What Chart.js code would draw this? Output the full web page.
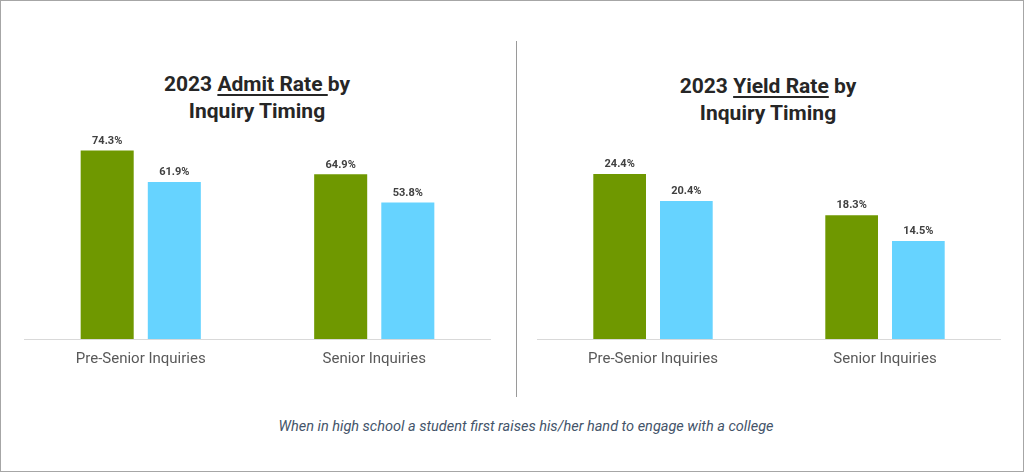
<!DOCTYPE html>
<html lang="en">
<head>
    <meta charset="UTF-8">
    <title>2023 Admit and Yield Rate by Inquiry Timing</title>
    <script src="https://cdn.jsdelivr.net/npm/chart.js"></script>
    <style>
        body {
            margin: 0;
            background: #ffffff;
            font-family: Roboto, "Noto Sans", sans-serif;
        }

        .frame {
            position: relative;
            width: 1022px;
            height: 470px;
            border: 1px solid #a6a6a6;
            overflow: hidden;
        }

        .divider {
            position: absolute;
            left: 515px;
            top: 40px;
            width: 1px;
            height: 356px;
            background: #9a9a9a;
        }

        .title {
            position: absolute;
            width: 400px;
            text-align: center;
            font-size: 21px;
            font-weight: bold;
            line-height: 27px;
            color: #262626;
        }

        .title u {
            text-underline-offset: 3px;
            text-decoration-thickness: 1.5px;
        }

        .chart-box {
            position: absolute;
            top: 100px;
            height: 278px;
        }

        .note {
            position: absolute;
            left: 14px;
            width: 1022px;
            top: 417px;
            text-align: center;
            font-style: italic;
            font-size: 14.5px;
            color: #44546a;
        }
    </style>
</head>
<body>
    <div class="frame">
        <div class="title" style="left:56px; top:70px;">2023 <u>Admit Rate </u>by<br>Inquiry Timing</div>
        <div class="title" style="left:567px; top:72px;">2023 <u>Yield Rate</u> by<br>Inquiry Timing</div>
        <div class="chart-box" style="left:23px; width:467px;"><canvas id="admitChart"></canvas></div>
        <div class="divider"></div>
        <div class="chart-box" style="left:536px; width:464px;"><canvas id="yieldChart"></canvas></div>
        <div class="note">When in high school a student first raises his/her hand to engage with a college</div>
    </div>
    <script>
        const categories = ['Pre-Senior Inquiries', 'Senior Inquiries'];
        const admitFirst = [74.3, 64.9];
        const admitSecond = [61.9, 53.8];
        const yieldFirst = [24.4, 18.3];
        const yieldSecond = [20.4, 14.5];

        // writes the value above each bar
        const valueLabels = {
            id: 'valueLabels',
            afterDatasetsDraw(chart) {
                const ctx = chart.ctx;
                ctx.save();
                ctx.font = 'bold 11px Roboto, sans-serif';
                ctx.fillStyle = '#404040';
                ctx.textAlign = 'center';
                ctx.textBaseline = 'bottom';
                chart.data.datasets.forEach((ds, i) => {
                    chart.getDatasetMeta(i).data.forEach((bar, j) => {
                        ctx.fillText(ds.data[j].toFixed(1) + '%', bar.x, bar.y - 4);
                    });
                });
                ctx.restore();
            }
        };

        function makeChart(id, first, second, yMax) {
            const ctx = document.getElementById(id).getContext('2d');
            return new Chart(ctx, {
                type: 'bar',
                data: {
                    labels: categories,
                    datasets: [{
                        data: first,
                        backgroundColor: '#6f9800',
                        categoryPercentage: 0.575,
                        barPercentage: 0.79
                    }, {
                        data: second,
                        backgroundColor: '#66d3ff',
                        categoryPercentage: 0.575,
                        barPercentage: 0.79
                    }]
                },
                options: {
                    responsive: true,
                    maintainAspectRatio: false,
                    animation: false,
                    layout: {
                        padding: { top: 35, left: 0, right: 0, bottom: 0 }
                    },
                    scales: {
                        x: {
                            grid: { display: false, drawTicks: false },
                            border: { display: true, color: '#d9d9d9', width: 1 },
                            ticks: {
                                padding: 11,
                                color: '#595959',
                                font: { size: 15, family: 'Roboto, sans-serif' }
                            }
                        },
                        y: {
                            display: false,
                            min: 0,
                            max: yMax
                        }
                    },
                    plugins: {
                        legend: { display: false },
                        tooltip: { enabled: false }
                    }
                },
                plugins: [valueLabels]
            });
        }

        makeChart('admitChart', admitFirst, admitSecond, 80);
        makeChart('yieldChart', yieldFirst, yieldSecond, 30);
    </script>
</body>
</html>
